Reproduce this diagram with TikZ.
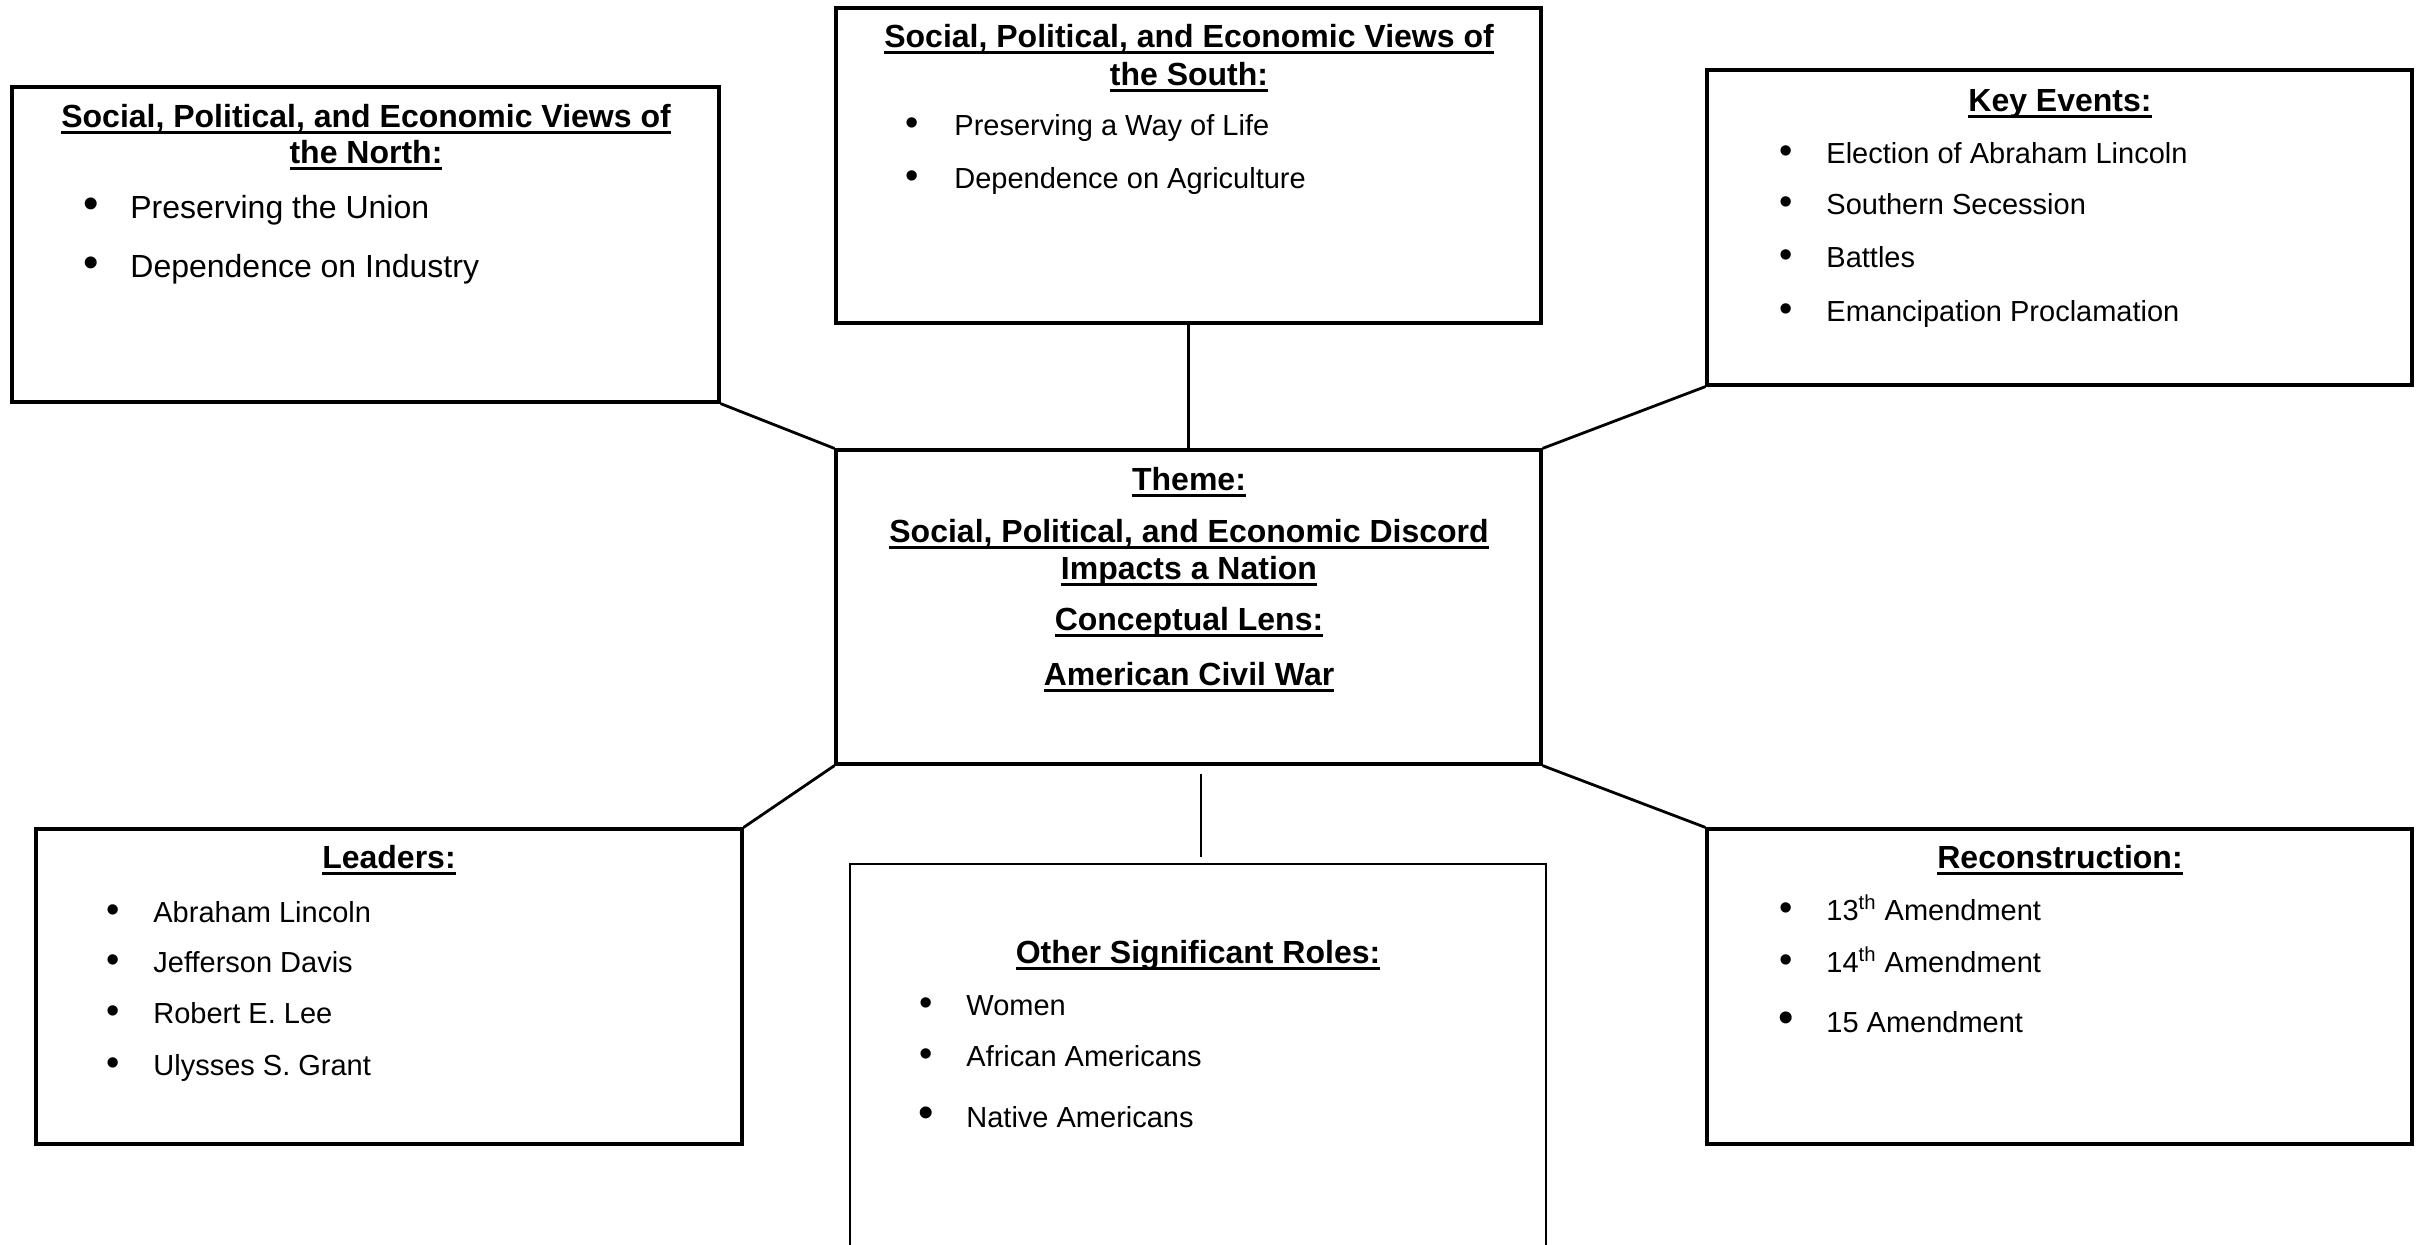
\documentclass[tikz,border=0pt]{standalone}
\usepackage{fontspec}
\setmainfont{Liberation Sans}
% underline at a fixed depth below the baseline
\newcommand\uln[1]{\setbox0=\hbox{#1}\rlap{\rule[-3.4pt]{\wd0}{1.3pt}}\box0}
\tikzset{
  box/.style={draw, rectangle, line width=1.6pt, inner sep=0pt},
  openbox/.style={draw, rectangle, line width=1pt, inner sep=0pt},
  link/.style={line width=1.4pt},
  stub/.style={line width=0.7pt},
  ttl/.style={anchor=base, inner sep=0pt, font=\bfseries\fontsize{16}{19}\selectfont},
  itm/.style={anchor=base west, inner sep=0pt, font=\fontsize{14.5}{17}\selectfont},
  bigitm/.style={anchor=base west, inner sep=0pt, font=\fontsize{16}{19}\selectfont},
  dot/.style={anchor=base, inner sep=0pt, font=\fontsize{19}{19}\selectfont},
  bigdot/.style={anchor=base, inner sep=0pt, font=\fontsize{22}{22}\selectfont},
}
\begin{document}
\begin{tikzpicture}[x=0.5pt,y=-0.5pt]
\clip (0,0) rectangle (2424,1244);
\fill[white] (0,0) rectangle (2424,1244);

% boxes
\node[box, minimum width=353.5pt, minimum height=157.5pt] (north) at (365.5,244.5) {};
\node[box, minimum width=352.5pt, minimum height=157.5pt] (south) at (1188.5,165.5) {};
\node[box, minimum width=352.5pt, minimum height=157.5pt] (key) at (2059.5,227.5) {};
\node[box, minimum width=352.5pt, minimum height=157pt] (theme) at (1188.5,607) {};
\node[box, minimum width=353pt, minimum height=157.5pt] (leaders) at (389,986.5) {};
\node[box, minimum width=352.5pt, minimum height=157.5pt] (recon) at (2059.5,986.5) {};
\node[openbox, minimum width=348pt, minimum height=203pt] (roles) at (1198,1067) {};

% connectors
\draw[link] (north.south east) -- (theme.north west);
\draw[link] (south.south) -- (theme.north);
\draw[link] (key.south west) -- (theme.north east);
\draw[link] (theme.south west) -- (leaders.north east);
\draw[link] (theme.south east) -- (recon.north west);
\coordinate (stubtop) at (1201,774);
\coordinate (stubbot) at (1201,857);
\draw[stub] (stubtop) -- (stubbot);

% north
\node[ttl] (nt1) at (366,127) {\uln{Social, Political, and Economic Views of}};
\node[ttl] (nt2) at (366,163) {\uln{the North:}};
\node[bigdot] (nb1) at (91,218) {•};
\node[bigitm] (ni1) at (130,218) {Preserving the Union};
\node[bigdot] (nb2) at (91,277) {•};
\node[bigitm] (ni2) at (130,277) {Dependence on Industry};

% south
\node[ttl] (st1) at (1189,47) {\uln{Social, Political, and Economic Views of}};
\node[ttl] (st2) at (1189,85) {\uln{the South:}};
\node[dot] (sb1) at (912,135) {•};
\node[itm] (si1) at (954,135) {Preserving a Way of Life};
\node[dot] (sb2) at (912,188) {•};
\node[itm] (si2) at (954,188) {Dependence on Agriculture};

% key events
\node[ttl] (kt) at (2060,111) {\uln{Key Events:}};
\node[dot] (kb1) at (1786,163) {•};
\node[itm] (ki1) at (1826,163) {Election of Abraham Lincoln};
\node[dot] (kb2) at (1786,214) {•};
\node[itm] (ki2) at (1826,214) {Southern Secession};
\node[dot] (kb3) at (1786,267) {•};
\node[itm] (ki3) at (1826,267) {Battles};
\node[dot] (kb4) at (1786,321) {•};
\node[itm] (ki4) at (1826,321) {Emancipation Proclamation};

% theme
\node[ttl] (tt1) at (1189,490) {\uln{Theme:}};
\node[ttl] (tt2) at (1189,542) {\uln{Social, Political, and Economic Discord}};
\node[ttl] (tt3) at (1189,579) {\uln{Impacts a Nation}};
\node[ttl] (tt4) at (1189,630) {\uln{Conceptual Lens:}};
\node[ttl] (tt5) at (1189,685) {\uln{American Civil War}};

% leaders
\node[ttl] (lt) at (389,868) {\uln{Leaders:}};
\node[dot] (lb1) at (113,922) {•};
\node[itm] (li1) at (153,922) {Abraham Lincoln};
\node[dot] (lb2) at (113,972) {•};
\node[itm] (li2) at (153,972) {Jefferson Davis};
\node[dot] (lb3) at (113,1023) {•};
\node[itm] (li3) at (153,1023) {Robert E. Lee};
\node[dot] (lb4) at (113,1075) {•};
\node[itm] (li4) at (153,1075) {Ulysses S. Grant};

% other roles
\node[ttl] (ot) at (1198,963) {\uln{Other Significant Roles:}};
\node[dot] (ob1) at (926,1015) {•};
\node[itm] (oi1) at (966,1015) {Women};
\node[dot] (ob2) at (926,1066) {•};
\node[itm] (oi2) at (966,1066) {African Americans};
\node[bigdot] (ob3) at (926,1127) {•};
\node[itm] (oi3) at (966,1127) {Native Americans};

% reconstruction
\node[ttl] (rt) at (2060,868) {\uln{Reconstruction:}};
\node[dot] (rb1) at (1786,920) {•};
\node[itm] (ri1) at (1826,920) {13\textsuperscript{th} Amendment};
\node[dot] (rb2) at (1786,972) {•};
\node[itm] (ri2) at (1826,972) {14\textsuperscript{th} Amendment};
\node[bigdot] (rb3) at (1786,1032) {•};
\node[itm] (ri3) at (1826,1032) {15 Amendment};
\end{tikzpicture}
\end{document}
